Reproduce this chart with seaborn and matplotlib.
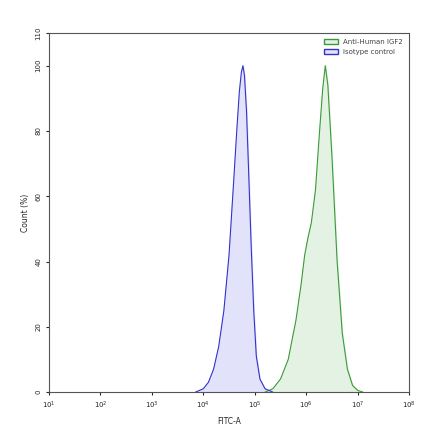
import numpy as np
import pandas as pd
import matplotlib
matplotlib.use("Agg")
import matplotlib.pyplot as plt
import seaborn as sns
from matplotlib.patches import Patch

# histogram outlines (log10 of FITC-A, count %)
iso_log = [3.85, 4.0, 4.1, 4.2, 4.3, 4.4, 4.5, 4.58, 4.65, 4.7, 4.74, 4.77, 4.8, 4.84, 4.88, 4.93, 4.98, 5.03, 5.1, 5.2, 5.35]
iso_count = [0, 1, 3, 7, 14, 25, 42, 62, 80, 92, 98, 100, 97, 86, 68, 45, 25, 11, 4, 1, 0]
igf_log = [5.2, 5.35, 5.5, 5.65, 5.8, 5.9, 5.97, 6.03, 6.1, 6.18, 6.25, 6.32, 6.37, 6.42, 6.5, 6.6, 6.7, 6.8, 6.9, 7.0, 7.1]
igf_count = [0, 1, 4, 10, 22, 33, 42, 47, 52, 62, 78, 93, 100, 94, 72, 40, 18, 7, 2, 0.5, 0]

sns.set_style("white")
fig, ax = plt.subplots(figsize=(4.4, 4.41), dpi=100)
fig.subplots_adjust(left=0.111, right=0.93, top=0.925, bottom=0.111)

series = [
    ("Anti-Human IGF2", igf_log, igf_count, "#3a9a3a", "#e3f2e3"),
    ("Isotype control", iso_log, iso_count, "#3333cc", "#e2e2fa"),
]
handles = []
for name, lg, cnt, edge, face in series:
    df = pd.DataFrame({"x": 10 ** np.array(lg), "y": cnt})
    ax.fill_between(df["x"], df["y"], color=face)
    sns.lineplot(data=df, x="x", y="y", ax=ax, color=edge, lw=0.8)
    handles.append(Patch(facecolor=face, edgecolor=edge, label=name))

ax.set_xscale("log")
ax.set_xlim(10, 1e8)
ax.set_ylim(0, 110)
ax.set_yticks([0, 20, 40, 60, 80, 100, 110])
ax.tick_params(axis="both", labelsize=5, length=2, direction="out", left=True, bottom=True)
for t in ax.get_yticklabels():
    t.set_rotation(90)
    t.set_va("center")
ax.set_xlabel("FITC-A", fontsize=5.5)
ax.set_ylabel("Count (%)", fontsize=5.5)
for s in ax.spines.values():
    s.set_color("#555555")
    s.set_linewidth(0.8)
leg = ax.legend(handles=handles, loc="upper right", fontsize=5, frameon=False,
                handlelength=2, handleheight=0.7, borderaxespad=0.5)
for t in leg.get_texts():
    t.set_color("#444444")
fig.savefig("out.png", dpi=100)
